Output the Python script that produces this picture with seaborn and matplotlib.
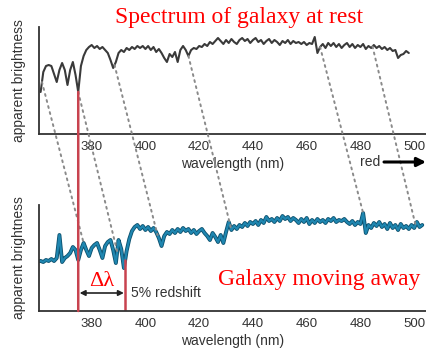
import numpy as np
import pandas as pd
import matplotlib
matplotlib.use('Agg')
import matplotlib.pyplot as plt
import matplotlib.patheffects as pe
from matplotlib.patches import ConnectionPatch
import seaborn as sns

# spectrum of galaxy at rest (1 nm steps, brightness in arbitrary units)
rest_wl = list(range(361, 499))
rest_flux = [42, 62, 68, 69, 68, 60, 52, 64, 71, 64, 49, 64, 72, 59, 42, 68, 78, 84, 87, 89,
             86, 88, 85, 87, 84, 81, 74, 66, 72, 81, 84, 82, 86, 84, 87, 85, 88, 86, 88, 85,
             88, 84, 87, 82, 85, 81, 76, 72, 80, 77, 82, 72, 84, 88, 84, 78, 84, 86, 85, 88,
             87, 90, 88, 92, 90, 93, 96, 93, 90, 94, 91, 95, 92, 90, 94, 96, 93, 95, 91, 94,
             96, 92, 94, 90, 93, 95, 91, 94, 92, 89, 93, 91, 94, 90, 93, 91, 92, 90, 92, 89,
             91, 90, 97, 81, 87, 90, 86, 91, 88, 91, 87, 90, 86, 89, 91, 87, 90, 86, 89, 87,
             90, 85, 88, 86, 89, 86, 88, 85, 87, 84, 86, 83, 84, 76, 79, 80, 83, 81]

# spectrum of galaxy moving away
moving_wl = list(range(360, 504))
moving_flux = [50, 50, 49, 51, 50, 52, 50, 53, 76, 49, 53, 55, 58, 64, 61, 51, 61, 68, 61, 55,
               63, 66, 68, 61, 53, 65, 69, 71, 61, 48, 71, 62, 43, 60, 72, 80, 84, 86, 82, 85,
               81, 84, 80, 83, 79, 73, 65, 75, 79, 77, 81, 78, 82, 79, 83, 80, 82, 78, 81, 77,
               80, 82, 78, 75, 71, 78, 74, 69, 76, 68, 79, 89, 81, 85, 82, 86, 84, 88, 85, 89,
               87, 90, 86, 91, 88, 94, 90, 92, 89, 93, 90, 95, 92, 94, 90, 93, 91, 88, 92, 89,
               93, 87, 91, 88, 92, 89, 91, 88, 92, 90, 93, 89, 91, 90, 92, 89, 87, 90, 86, 89,
               87, 98, 78, 86, 83, 88, 85, 89, 84, 87, 82, 88, 83, 86, 81, 87, 83, 85, 82, 86,
               83, 89, 84, 86]

# absorption features: rest wavelength -> shifted wavelength
line_rest = [361.5, 375.0, 388.5, 416.0, 465.0, 484.5]
line_shifted = [377.0, 389.5, 404.5, 432.0, 481.0, 500.5]

# Ca line marked in red, before and after the shift
red_lines = [375.0, 392.5]

ticks = list(range(370, 501, 10))
tick_labels = [str(t) if t % 20 == 0 else '' for t in ticks]

rest_df = pd.DataFrame({'wavelength': rest_wl, 'brightness': rest_flux})
moving_df = pd.DataFrame({'wavelength': moving_wl, 'brightness': moving_flux})

sns.set_style('white')
plt.rcParams['font.family'] = ['Liberation Sans', 'DejaVu Sans']

W, H = 426, 354
PX_PER_NM = 2.6875
X0 = 360.4
fig = plt.figure(figsize=(W / 100, H / 100), dpi=100)
ax_top = fig.add_axes([39 / W, 1 - 134 / H, 387 / W, 107 / H])
ax_bot = fig.add_axes([39 / W, 1 - 311 / H, 387 / W, 106 / H])

sns.lineplot(data=rest_df, x='wavelength', y='brightness', ax=ax_top,
             color='#3a3a3a', lw=1.5)
sns.lineplot(data=moving_df, x='wavelength', y='brightness', ax=ax_bot,
             color='#1f86b0', lw=1.6,
             path_effects=[pe.Stroke(linewidth=2.8, foreground='#0b4f6c'), pe.Normal()])

for ax, top in [(ax_top, 107), (ax_bot, 106)]:
    ax.set_xlim(X0, X0 + 387 / PX_PER_NM)
    ax.set_ylim(0, top)
    ax.set_xticks(ticks)
    ax.set_xticklabels(tick_labels)
    ax.set_yticks([])
    ax.tick_params(axis='x', direction='in', length=5, width=1.2, pad=5,
                   labelsize=9.5, color='#333333', labelcolor='#333333')
    for s in ['top', 'right']:
        ax.spines[s].set_visible(False)
    for s in ['left', 'bottom']:
        ax.spines[s].set_color('#333333')
        ax.spines[s].set_linewidth(1.3)
    ax.set_xlabel('wavelength (nm)', fontsize=10, color='#333333', labelpad=3)
    ax.set_ylabel('apparent brightness', fontsize=10, color='#333333', labelpad=9)
    ax.patch.set_alpha(0)

# dotted lines joining matching features
for a, b in zip(line_rest, line_shifted):
    ya = np.interp(a, rest_wl, rest_flux)
    yb = np.interp(b, moving_wl, moving_flux)
    con = ConnectionPatch(xyA=(a, ya), coordsA=ax_top.transData,
                          xyB=(b, yb), coordsB=ax_bot.transData,
                          color='#8a8a8a', lw=1.4, ls=(0, (1, 2.2)))
    fig.add_artist(con)

# red marker lines
y0 = np.interp(red_lines[0], rest_wl, rest_flux)
con = ConnectionPatch(xyA=(red_lines[0], y0), coordsA=ax_top.transData,
                      xyB=(red_lines[0], 0), coordsB=ax_bot.transData,
                      color='#c8434f', lw=1.8)
fig.add_artist(con)
y1 = np.interp(red_lines[1], moving_wl, moving_flux)
ax_bot.plot([red_lines[1], red_lines[1]], [y1, 0], color='#c8434f', lw=1.8)

ax_bot.annotate('', xy=(red_lines[0], 18), xytext=(red_lines[1], 18),
                arrowprops=dict(arrowstyle='<|-|>', color='#222222', lw=1.2,
                                mutation_scale=8, shrinkA=1, shrinkB=1))
ax_bot.text(sum(red_lines) / 2, 30, 'Δλ', color='red', fontsize=16,
            family=['Liberation Serif', 'DejaVu Serif'], ha='center', va='center')
ax_bot.text(red_lines[1] + 2, 18, '5% redshift', fontsize=10, color='#333333',
            ha='left', va='center')

fig.text(239 / W, 1 - 17 / H, 'Spectrum of galaxy at rest', color='red', fontsize=17,
         family=['Liberation Serif', 'DejaVu Serif'], ha='center', va='center')
fig.text(319 / W, 1 - 280 / H, 'Galaxy moving away', color='red', fontsize=17,
         family=['Liberation Serif', 'DejaVu Serif'], ha='center', va='center')

fig.text(370 / W, 1 - 162 / H, 'red', fontsize=10, color='#333333', ha='center', va='center')
fig.add_artist(plt.Annotation('', xy=(1.0, 1 - 162 / H), xytext=(384 / W, 1 - 162 / H),
                              xycoords='figure fraction', textcoords='figure fraction',
                              arrowprops=dict(arrowstyle='-|>', color='black', lw=2.2,
                                              mutation_scale=13, shrinkA=0, shrinkB=0)))

fig.savefig('out.png', dpi=100)
